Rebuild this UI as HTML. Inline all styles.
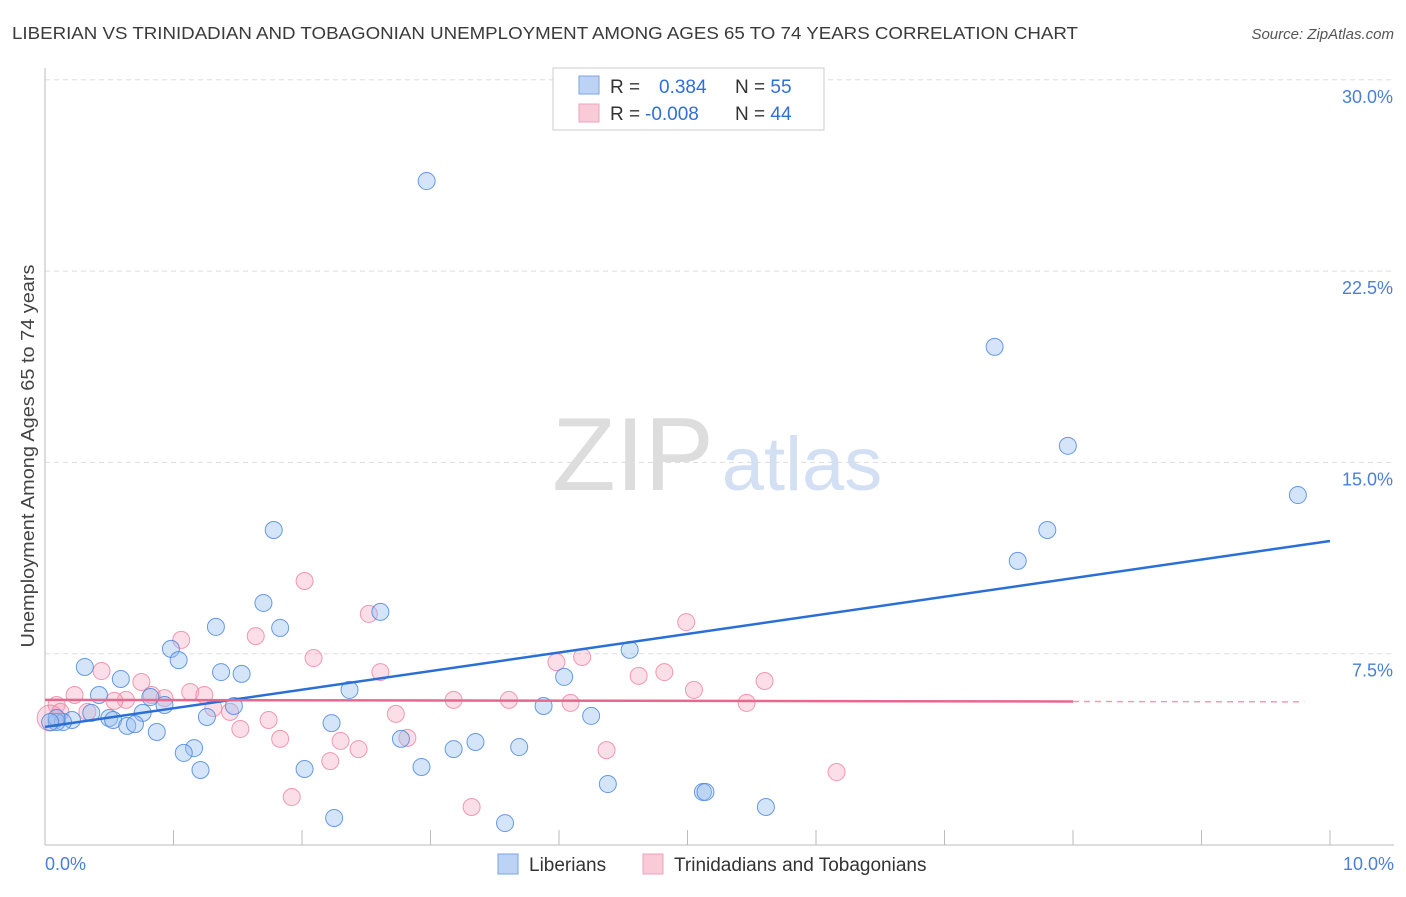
<!DOCTYPE html>
<html><head><meta charset="utf-8"><style>
body{margin:0;background:#fff;font-family:"Liberation Sans",sans-serif;}
svg text{font-family:"Liberation Sans",sans-serif;}
</style></head><body>
<svg id="chart" width="1406" height="892">
<text x="12" y="39" font-size="17.5" fill="#3a3a3a" textLength="1066" lengthAdjust="spacingAndGlyphs">LIBERIAN VS TRINIDADIAN AND TOBAGONIAN UNEMPLOYMENT AMONG AGES 65 TO 74 YEARS CORRELATION CHART</text>
<text x="1394" y="39" font-size="15" fill="#555" font-style="italic" text-anchor="end">Source: ZipAtlas.com</text>
<g><text x="633" y="490" font-size="104" fill="#ddd" font-family="Liberation Serif" text-anchor="middle">ZIP</text><text x="802" y="490" font-size="76" fill="#d3e0f3" text-anchor="middle">atlas</text></g>
<g id="grid"></g><g id="axes"></g><g id="marks"></g>
<text transform="translate(34,456) rotate(-90)" font-size="18" fill="#444" text-anchor="middle" textLength="383" lengthAdjust="spacingAndGlyphs">Unemployment Among Ages 65 to 74 years</text>
<text x="45" y="870" font-size="18" fill="#4a7fd6">0.0%</text>
<text x="1394" y="870" font-size="18" fill="#4a7fd6" text-anchor="end">10.0%</text>
<g>
<rect x="553" y="68" width="271" height="62" fill="#fff" stroke="#ccc"/>
<rect x="579" y="76" width="20" height="18" fill="#bcd3f3" stroke="#7aa6e6"/>
<rect x="579" y="104" width="20" height="18" fill="#f9cbd9" stroke="#f0a0b8"/>
<text x="610" y="93" font-size="19" fill="#333">R = <tspan fill="#2f6fd8" x="659">0.384</tspan><tspan x="735">N = </tspan><tspan fill="#2f6fd8">55</tspan></text>
<text x="610" y="120" font-size="19" fill="#333">R = <tspan fill="#2f6fd8" x="645">-0.008</tspan><tspan x="735">N = </tspan><tspan fill="#2f6fd8">44</tspan></text>
</g>
<g>
<rect x="498" y="854" width="20" height="20" fill="#bcd3f3" stroke="#7aa6e6"/>
<text x="529" y="871" font-size="19" fill="#333">Liberians</text>
<rect x="643" y="854" width="20" height="20" fill="#f9cbd9" stroke="#f0a0b8"/>
<text x="674" y="871" font-size="19" fill="#333">Trinidadians and Tobagonians</text>
</g>
</svg>
<script>
const yTicks=[7.5,15,22.5,30];
const yTickLabels=["7.5%","15.0%","22.5%","30.0%"];
const xTicks=[1,2,3,4,5,6,7,8,9,10];
const blueX=[2.97,7.39,7.96,9.75,7.80,7.57,1.78,1.70,2.61,1.33,1.83,0.98,1.04,0.31,1.37,1.53,0.59,4.55,4.04,2.37,0.42,0.82,0.93,1.47,0.76,0.36,1.26,0.50,0.53,0.21,0.14,0.09,0.64,0.70,2.23,4.25,3.88,0.87,1.16,1.08,2.77,3.35,3.69,3.18,2.93,1.21,2.02,4.38,5.12,5.14,5.61,2.25,3.58,0.09,0.04];
const blueY=[26.03,19.53,15.65,13.72,12.35,11.14,12.35,9.49,9.14,8.55,8.51,7.69,7.25,6.98,6.78,6.71,6.51,7.65,6.59,6.08,5.88,5.80,5.49,5.45,5.18,5.18,5.02,4.98,4.90,4.90,4.82,4.82,4.67,4.74,4.78,5.06,5.45,4.43,3.80,3.61,4.16,4.04,3.84,3.76,3.06,2.94,2.98,2.39,2.08,2.08,1.49,1.06,0.86,4.98,4.82];
const pinkX=[2.02,1.06,1.64,2.52,4.99,2.09,2.61,3.98,4.18,4.62,4.82,5.60,0.75,0.44,0.23,1.13,1.24,0.83,0.93,0.63,0.54,0.33,0.09,1.44,1.31,3.18,3.61,4.09,5.05,5.46,1.74,1.52,2.73,2.82,2.30,2.44,1.83,2.22,4.37,1.92,3.32,6.16,0.04,0.12];
const pinkY=[10.35,8.04,8.19,9.06,8.74,7.33,6.78,7.17,7.37,6.63,6.78,6.43,6.39,6.82,5.88,6.00,5.88,5.88,5.76,5.69,5.65,5.22,5.49,5.22,5.37,5.69,5.69,5.57,6.08,5.57,4.90,4.55,5.14,4.20,4.08,3.76,4.16,3.29,3.72,1.88,1.49,2.86,4.98,5.22];
const blueTrend=[4.63,11.92];
const pinkTrend=[5.69,5.61];
const NS="http://www.w3.org/2000/svg";
const X=v=>45+v*128.5, Y=v=>845-v*25.507;
function mk(tag,attrs,parent){const e=document.createElementNS(NS,tag);for(const k in attrs)e.setAttribute(k,attrs[k]);document.getElementById(parent).appendChild(e);return e;}
yTicks.forEach((t,i)=>{
 const l=mk('line',{x1:45,x2:1394,y1:Y(t),y2:Y(t),stroke:'#ddd','stroke-dasharray':'5,4'},'grid');
 
 
 const tx=mk('text',{x:1393,y:Y(t)+23,'font-size':18,fill:'#4a7fd6','text-anchor':'end'},'grid');
 tx.textContent=yTickLabels[i];
 
 
});
let a=mk('line',{x1:45,x2:45,y1:68,y2:845,stroke:'#bbb'},'axes');


a=mk('line',{x1:45,x2:1394,y1:845,y2:845,stroke:'#bbb'},'axes');


xTicks.forEach(t=>{
 const l=mk('line',{x1:X(t),x2:X(t),y1:830,y2:845,stroke:'#bbb'},'axes');
 
 
});
pinkX.forEach((v,i)=>{
 const c=mk('circle',{cx:X(v),cy:Y(pinkY[i]),r:i==42?13:8.5,fill:'rgba(244,160,185,0.35)',stroke:'rgba(236,130,160,0.8)','stroke-width':1},'marks');
 
 
});
blueX.forEach((v,i)=>{
 const c=mk('circle',{cx:X(v),cy:Y(blueY[i]),r:8.5,fill:'rgba(150,190,240,0.4)',stroke:'rgba(70,130,220,0.8)','stroke-width':1},'marks');
 
 
});
let t=mk('line',{x1:X(0),y1:Y(blueTrend[0]),x2:X(10),y2:Y(blueTrend[1]),stroke:'#2a6fd6','stroke-width':2.5},'marks');


const py=v=>pinkTrend[0]+(pinkTrend[1]-pinkTrend[0])*v/10;
t=mk('line',{x1:X(0),y1:Y(py(0)),x2:X(8),y2:Y(py(8)),stroke:'#e8678f','stroke-width':2.5},'marks');


t=mk('line',{x1:X(8),y1:Y(py(8)),x2:X(9.8),y2:Y(py(9.8)),stroke:'#e8a0b5','stroke-width':1.5,'stroke-dasharray':'6,5'},'marks');


</script>
</body></html>
